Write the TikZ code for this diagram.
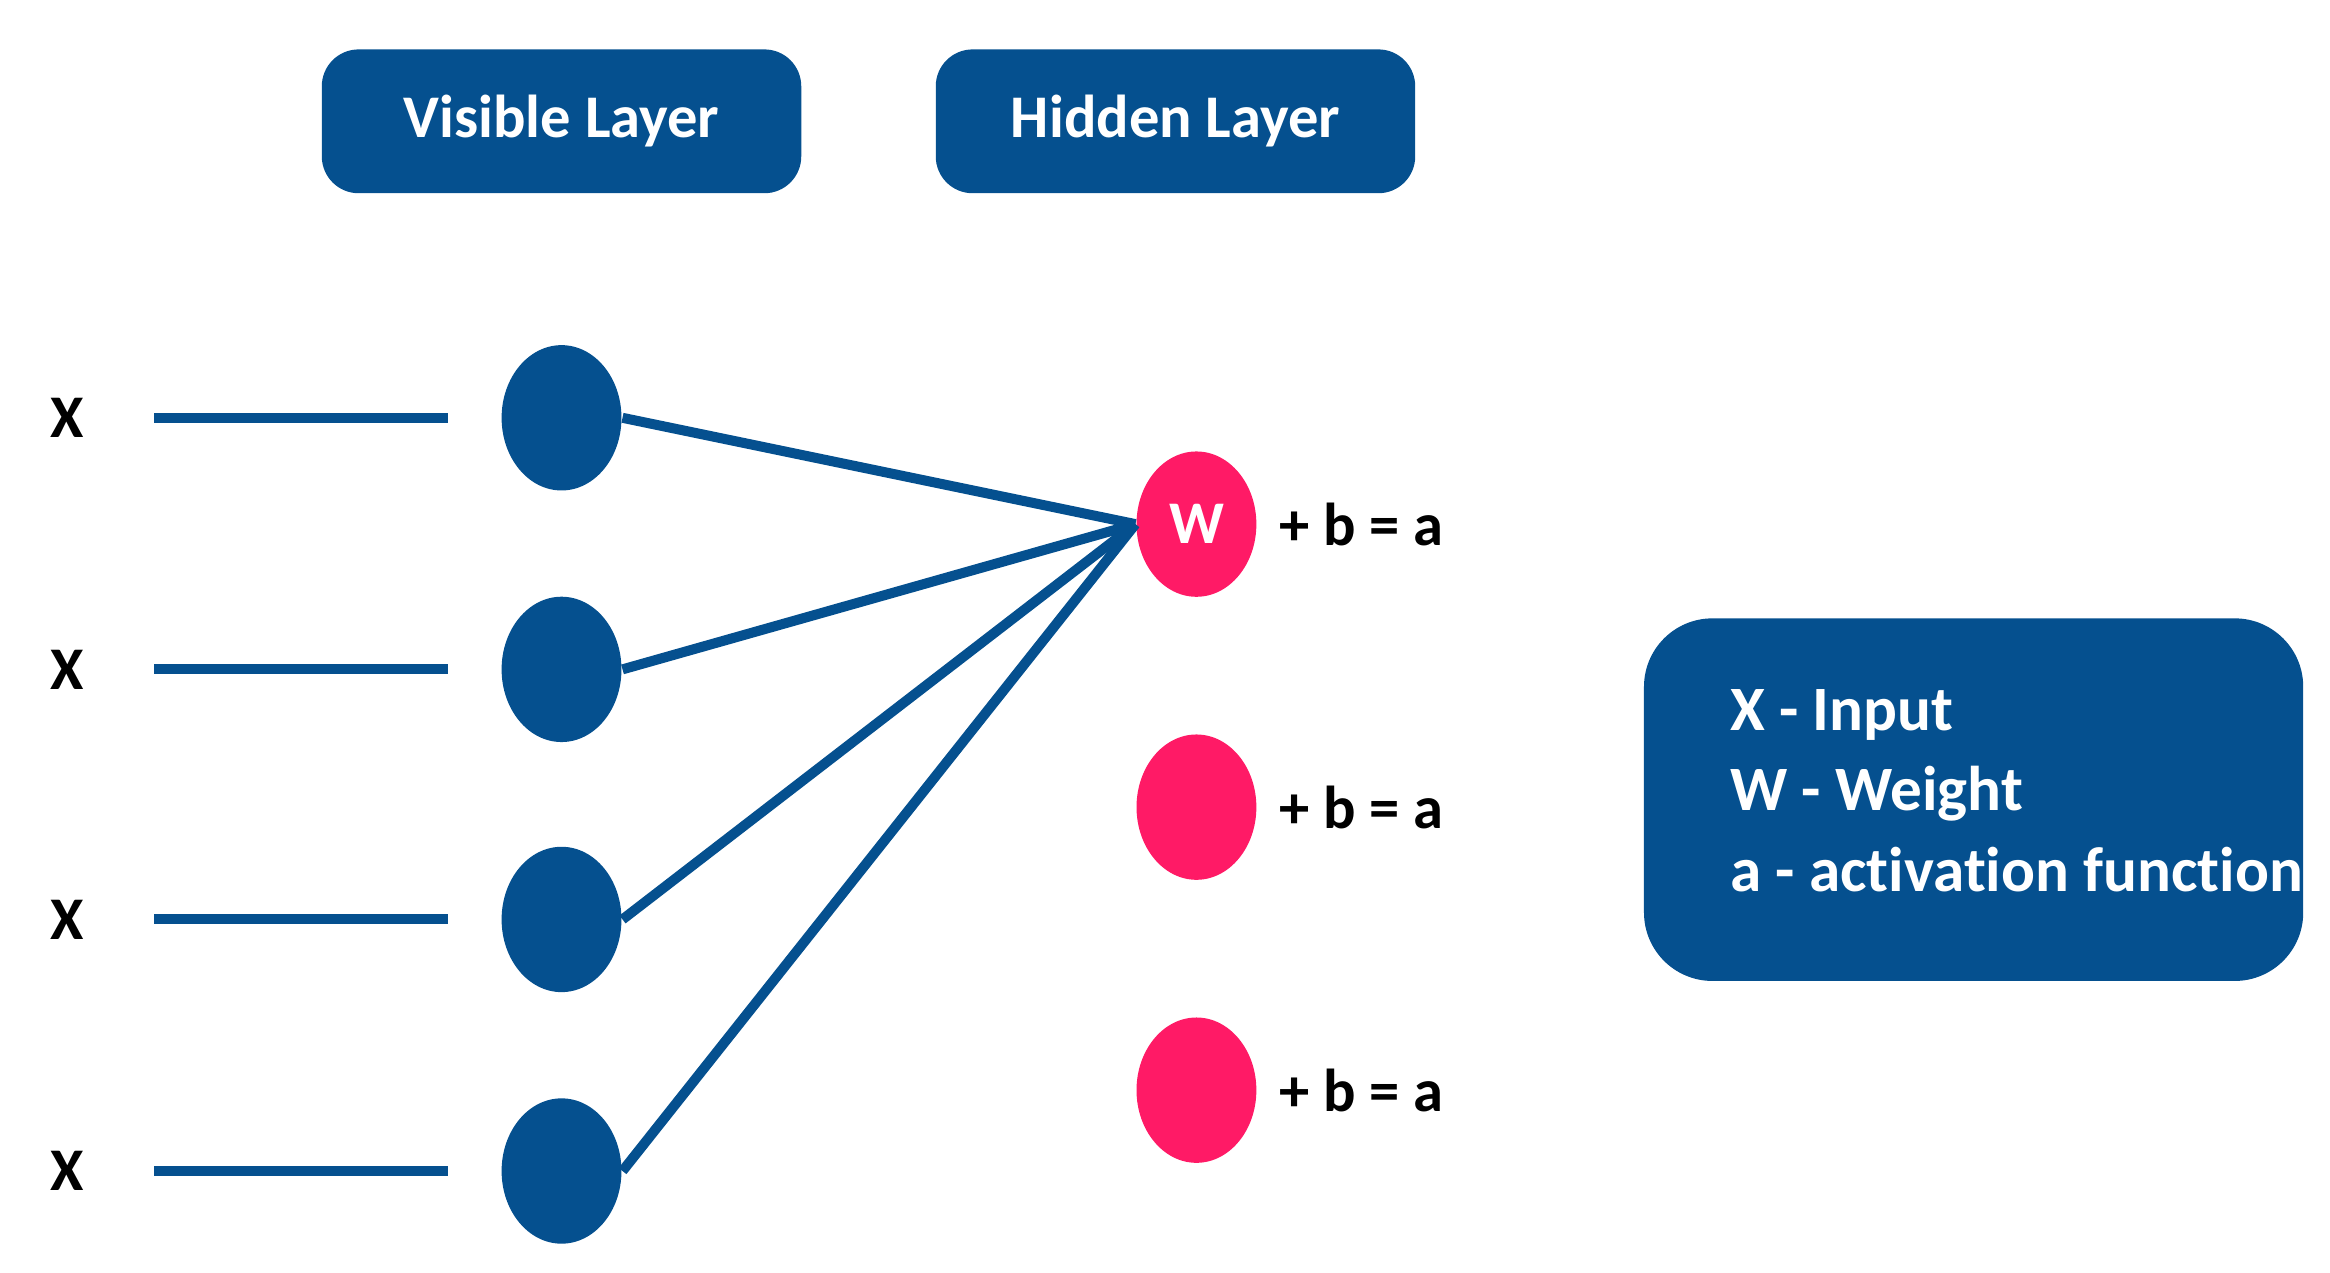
\documentclass[tikz,border=0pt]{standalone}
\usepackage{fontspec}
\setmainfont{Carlito}[Ligatures=NoCommon]
\usetikzlibrary{shapes.geometric}
\definecolor{deepblue}{HTML}{05508F}
\definecolor{hotpink}{HTML}{FF1A66}
\begin{document}
\begin{tikzpicture}[x=0.01cm,y=-0.01cm,font=\fontsize{11.5}{14}\selectfont\bfseries,
  head box/.style={rectangle,rounded corners=7pt,fill=deepblue,text=white,minimum width=3.2cm,minimum height=0.96cm},
  vis node/.style={ellipse,fill=deepblue,minimum width=0.8cm,minimum height=0.97cm,inner sep=0pt},
  hid node/.style={ellipse,fill=hotpink,text=white,minimum width=0.8cm,minimum height=0.97cm,inner sep=0pt},
  wire/.style={draw=deepblue,line width=1.9pt}]
\useasboundingbox (0,0) rectangle (1556,850);
\node[head box] (vis) at (375,81) {Visible Layer};
\node[head box] (hid) at (785,81) {Hidden Layer};
\node[rectangle,rounded corners=13pt,fill=deepblue,text=white,minimum width=4.4cm,minimum height=2.42cm] (legend) at (1318,534) {};
\node[anchor=west,text=white,align=left,font=\fontsize{12}{15.3}\selectfont\bfseries] (legtext) at (1143,528) {X - Input\\W - Weight\\a - activation function};
% visible layer
\foreach \i/\y in {1/279,2/447,3/614,4/782}{
  \node[vis node] (v\i) at (375,\y) {};
  \node (x\i) at (45,\y) {X};
  \coordinate (s\i) at (103,\y);
  \coordinate (e\i) at (299,\y);
  \draw[wire] (s\i) -- (e\i);
}
% hidden layer
\foreach \i/\y in {1/350,2/539,3/728}{
  \node[anchor=west] (b\i) at (842,\y) {+ b = a};
}
\node[hid node] (h1) at (799,350) {W};
\node[hid node] (h2) at (799,539) {};
\node[hid node] (h3) at (799,728) {};
\foreach \i in {1,...,4}
  \draw[wire] (v\i.east) -- (h1.west);
\end{tikzpicture}
\end{document}
